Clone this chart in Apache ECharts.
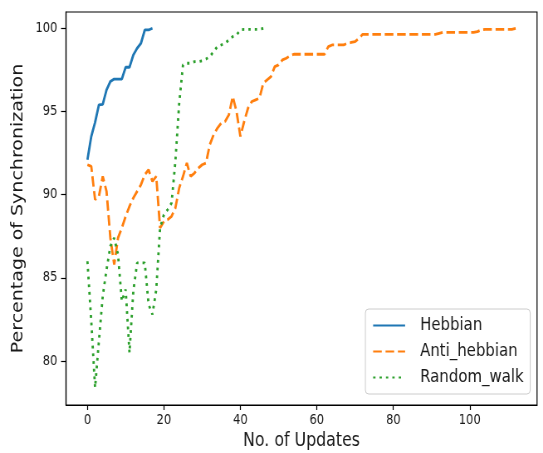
<!DOCTYPE html>
<html><head><meta charset="utf-8">
<script src="https://cdn.jsdelivr.net/npm/echarts@6/dist/echarts.min.js"></script>
<style>
html,body{margin:0;padding:0;background:#fff;overflow:hidden}
#wrap{width:543px;height:453px;overflow:hidden;position:relative}
#c{width:654px;height:453px;transform:scaleX(0.8303);transform-origin:0 0}
</style>
</head><body><div id="wrap"><div id="c"></div></div>
<script>
const xTicks = [0, 20, 40, 60, 80, 100];
const yTicks = [80, 85, 90, 95, 100];
const seriesNames = ['Hebbian', 'Anti_hebbian', 'Random_walk'];
const hebbian = [92.1, 93.5, 94.35, 95.4, 95.43, 96.3, 96.8, 96.95, 96.95, 96.95, 97.66, 97.66, 98.4, 98.8, 99.1, 99.9, 99.9, 100];
const antiHebbian = [
  91.8, 91.7, 89.7, 89.9, 91.1, 90.2, 87.4, 85.8, 87.4, 88.0,
  88.7, 89.3, 89.8, 90.2, 90.6, 91.2, 91.5, 90.8, 91.1, 88.0,
  88.4, 88.5, 88.7, 89.2, 90.4, 91.1, 91.9, 91.1, 91.3, 91.6,
  91.8, 91.9, 93.0, 93.6, 94.0, 94.3, 94.4, 94.8, 95.9, 95.0,
  93.5, 94.4, 95.2, 95.6, 95.7, 95.8, 96.7, 96.9, 97.1, 97.7,
  97.8, 98.1, 98.2, 98.35, 98.44, 98.44, 98.44, 98.44, 98.44, 98.44,
  98.44, 98.44, 98.44, 98.9, 99.0, 99.0, 99.0, 99.0, 99.1, 99.15,
  99.2, 99.4, 99.64, 99.64, 99.64, 99.64, 99.64, 99.64, 99.64, 99.64,
  99.64, 99.64, 99.64, 99.64, 99.64, 99.64, 99.64, 99.64, 99.64, 99.64,
  99.64, 99.64, 99.7, 99.76, 99.76, 99.76, 99.76, 99.76, 99.76, 99.76,
  99.76, 99.76, 99.8, 99.9, 99.94, 99.94, 99.94, 99.94, 99.94, 99.94,
  99.94, 99.94, 100
];
const randomWalk = [
  86.0, 82.4, 78.4, 81.2, 83.9, 85.5, 86.9, 87.4, 86.4, 83.6,
  84.3, 80.5, 84.2, 85.9, 85.9, 85.9, 83.4, 82.8, 84.3, 88.0,
  88.8, 89.1, 89.5, 92.0, 95.5, 97.8, 97.9, 97.9, 98.0, 98.0,
  98.05, 98.15, 98.3, 98.6, 98.9, 99.0, 99.1, 99.3, 99.5, 99.6,
  99.9, 99.94, 99.94, 99.94, 99.94, 99.94, 100
];

const toPairs = arr => arr.map((v, i) => [i, v]);
const FONT = 'DejaVu Sans';
const TXT = '#1a1a1a';
const LW = 2.8;
const chart = echarts.init(document.getElementById('c'), null, {renderer: 'canvas', width: 654, height: 453});
chart.setOption({
  animation: false,
  backgroundColor: '#fff',
  grid: {left: 79.5, right: 7.2, top: 12, bottom: 48, containLabel: false, outerBoundsMode: 'none',
         show: true, borderColor: '#000', borderWidth: 1.2, backgroundColor: 'transparent'},
  xAxis: {
    type: 'value', min: -5.6, max: 117.6,
    name: 'No. of Updates', nameLocation: 'middle', nameGap: 27,
    nameTextStyle: {fontFamily: FONT, fontSize: 19, color: TXT},
    axisLine: {show: true, onZero: false, lineStyle: {color: '#000', width: 1.2}},
    axisTick: {show: true, length: 5, inside: false, customValues: xTicks, lineStyle: {color: '#000', width: 1.2}},
    axisLabel: {customValues: xTicks, margin: 8, fontFamily: FONT, fontSize: 13.8, color: TXT},
    splitLine: {show: false}
  },
  yAxis: {
    type: 'value', min: 77.36, max: 100.98,
    name: 'Percentage of Synchronization', nameLocation: 'middle', nameGap: 45,
    nameTextStyle: {fontFamily: FONT, fontSize: 19, color: TXT},
    axisLine: {show: true, onZero: false, lineStyle: {color: '#000', width: 1.2}},
    axisTick: {show: true, length: 6, inside: false, customValues: yTicks, lineStyle: {color: '#000', width: 1.2}},
    axisLabel: {customValues: yTicks, margin: 10.5, fontFamily: FONT, fontSize: 13.8, color: TXT},
    splitLine: {show: false}
  },
  legend: {
    orient: 'vertical', right: 15.4, top: 309,
    backgroundColor: '#fff', borderColor: '#cccccc', borderWidth: 1, borderRadius: 4,
    padding: [7.5, 8, 7.5, 8.4], itemWidth: 38.5, itemHeight: 14, itemGap: 8,
    textStyle: {fontFamily: FONT, fontSize: 18, color: TXT, padding: [0, 0, 0, 13]},
    itemStyle: {opacity: 0},
    data: seriesNames
  },
  series: [
    {name: seriesNames[0], type: 'line', data: toPairs(hebbian), showSymbol: false, symbol: 'none',
     lineStyle: {color: '#1f77b4', width: LW, type: 'solid'}, itemStyle: {color: '#1f77b4'}},
    {name: seriesNames[1], type: 'line', data: toPairs(antiHebbian), showSymbol: false, symbol: 'none',
     lineStyle: {color: '#ff7f0e', width: LW, type: [10.4, 4.5]}, itemStyle: {color: '#ff7f0e'}},
    {name: seriesNames[2], type: 'line', data: toPairs(randomWalk), showSymbol: false, symbol: 'none',
     lineStyle: {color: '#2ca02c', width: LW, type: [2.8, 4.9]}, itemStyle: {color: '#2ca02c'}}
  ]
});
</script></body></html>
